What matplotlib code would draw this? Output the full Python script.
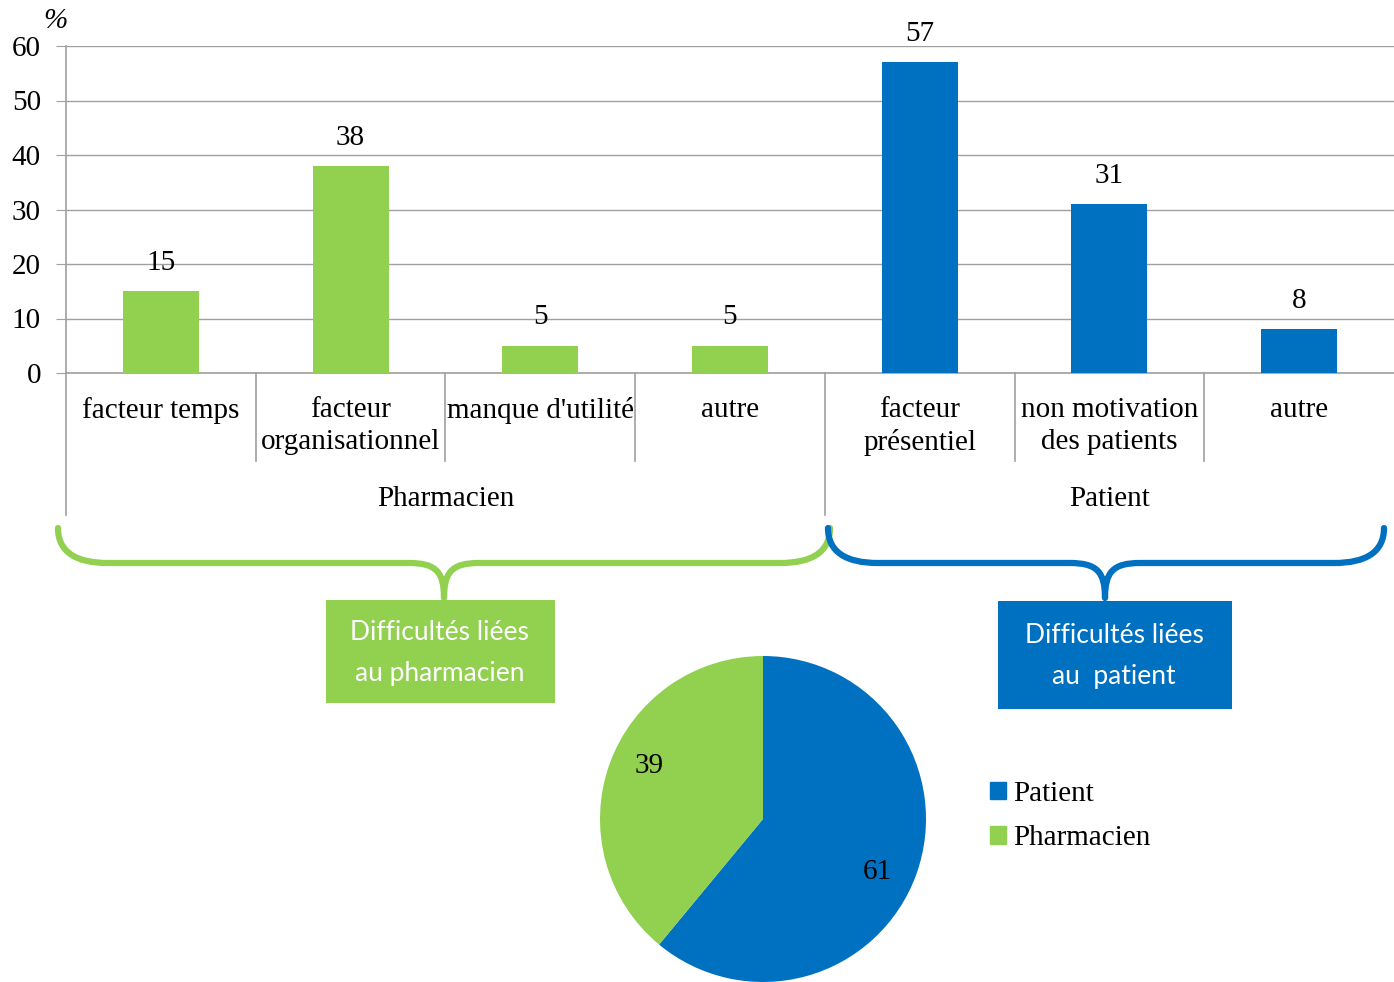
import matplotlib
matplotlib.use('Agg')
import numpy as np
import matplotlib.pyplot as plt
from matplotlib.path import Path
from matplotlib.patches import PathPatch, Rectangle, Patch
import matplotlib.transforms as mtransforms

plt.rcParams['font.family'] = ['Liberation Serif', 'DejaVu Serif']

GREEN = '#92D050'
BLUE = '#0070C0'

# données
categories = ['facteur temps', 'facteur\norganisationnel', "manque d'utilité", 'autre',
              'facteur\nprésentiel', 'non motivation\ndes patients', 'autre']
values = [15, 38, 5, 5, 57, 31, 8]
groups = ['Pharmacien', 'Patient']
group_sizes = [4, 3]
group_colors = [GREEN, BLUE]
pie_labels = ['Patient', 'Pharmacien']
pie_values = [61, 39]
box_texts = ['Difficultés liées\nau pharmacien', 'Difficultés liées\nau  patient']

FS = 21
W, H = 1394, 982
fig = plt.figure(figsize=(W / 100, H / 100), dpi=100)

# --- barres ---
ax = fig.add_axes([66 / W, 1 - 373 / H, 1 - 66 / W, 327 / H])
colors = []
for g, n in zip(group_colors, group_sizes):
    colors += [g] * n
xs = list(range(len(values)))
ax.bar(xs, values, width=0.4, color=colors, zorder=3)
for x, v in zip(xs, values):
    ax.annotate(str(v), (x, v), xytext=(0, 11), textcoords='offset points',
                ha='center', va='bottom', fontsize=FS)
ax.set_xlim(-0.5, len(values) - 0.5)
ax.set_ylim(0, 60)
ax.set_yticks(range(0, 61, 10))
ax.tick_params(axis='y', labelsize=FS, length=7, color='#a0a0a0', pad=11)
ax.set_xticks([])
ax.grid(axis='y', color='#a0a0a0', linewidth=1, zorder=0)
for s in ['top', 'right']:
    ax.spines[s].set_visible(False)
for s in ['left', 'bottom']:
    ax.spines[s].set_color('#a0a0a0')
    ax.spines[s].set_linewidth(1.2)
ax.text(-0.008, 1.077, '%', transform=ax.transAxes, fontsize=FS, style='italic',
        ha='center', va='center')

# étiquettes et séparateurs sous l'axe
trans = mtransforms.blended_transform_factory(ax.transData, ax.transAxes)
for x, lab in zip(xs, categories):
    ax.text(x, -0.072, lab, transform=trans, ha='center', va='top', fontsize=FS,
            linespacing=1.32)
start = 0
bounds = [0]
for g, n in zip(groups, group_sizes):
    ax.text(start + (n - 1) / 2, -0.385, g, transform=trans, ha='center', va='center',
            fontsize=FS)
    start += n
    bounds.append(start)
for b in range(len(values)):
    low = -0.435 if b in bounds else -0.27
    ax.plot([b - 0.5, b - 0.5], [0, low], transform=trans, color='#a0a0a0',
            linewidth=1.2, clip_on=False)

# --- accolades et encadrés ---
ov = fig.add_axes([0, 0, 1, 1], zorder=-1)
ov.set_xlim(0, W)
ov.set_ylim(H, 0)
ov.axis('off')


def brace(x0, x1, xm, col):
    top, mid, tip = 528, 563, 598
    verts = [(x0, top), (x0, 552), (x0 + 18, mid), (x0 + 50, mid),
             (xm - 35, mid),
             (xm - 8, mid), (xm, 572), (xm, tip),
             (xm, 572), (xm + 8, mid), (xm + 35, mid),
             (x1 - 50, mid),
             (x1 - 18, mid), (x1, 552), (x1, top)]
    codes = [Path.MOVETO, Path.CURVE4, Path.CURVE4, Path.CURVE4,
             Path.LINETO,
             Path.CURVE4, Path.CURVE4, Path.CURVE4,
             Path.CURVE4, Path.CURVE4, Path.CURVE4,
             Path.LINETO,
             Path.CURVE4, Path.CURVE4, Path.CURVE4]
    ov.add_patch(PathPatch(Path(verts, codes), fill=False, edgecolor=col,
                           linewidth=4.5, capstyle='round', joinstyle='round'))


brace(58, 830, 444, GREEN)
brace(828, 1384, 1105, BLUE)

boxes = [(326, 600, 229, 103), (998, 601, 234, 108)]
for (bx, by, bw, bh), txt, col in zip(boxes, box_texts, group_colors):
    ov.add_patch(Rectangle((bx, by), bw, bh, facecolor=col, edgecolor='none'))
    ov.text(bx + bw / 2 - 1, by + bh / 2 + 1, txt, ha='center', va='center', color='white',
            fontsize=19, family=['Lato', 'DejaVu Sans'], linespacing=1.8)

# --- camembert ---
pax = fig.add_axes([600 / W, 0, 326 / W, 326 / H])
wedges, _ = pax.pie(pie_values, colors=[BLUE, GREEN], startangle=90, counterclock=False)
for w, v in zip(wedges, pie_values):
    ang = np.deg2rad((w.theta1 + w.theta2) / 2 - 5)
    pax.text(0.77 * np.cos(ang), 0.77 * np.sin(ang), str(v), ha='center', va='center',
             fontsize=FS)
pax.set_xlim(-1, 1)
pax.set_ylim(-1, 1)
pax.set_aspect('equal')
handles = [Patch(color=c) for c in [BLUE, GREEN]]
fig.legend(handles, pie_labels, loc='center left', bbox_to_anchor=(964 / W, 1 - 816 / H),
           frameon=False, fontsize=FS, handlelength=0.55, handleheight=0.55,
           handletextpad=0.25, labelspacing=0.62)

fig.savefig('out.png', dpi=100)
